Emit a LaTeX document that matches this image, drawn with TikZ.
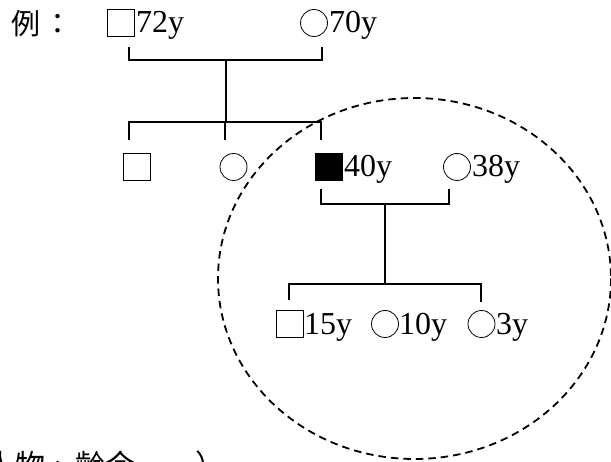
\documentclass[tikz,border=0pt]{standalone}
\usepackage{fontspec}
\setmainfont{Liberation Serif}
\newfontfamily\cjk{Noto Sans CJK TC}
\begin{document}
\begin{tikzpicture}[x=1pt,y=-1pt,
  male/.style={draw,rectangle,minimum size=27pt,inner sep=0pt,line width=0.8pt},
  female/.style={draw,circle,minimum size=27pt,inner sep=0pt,line width=0.8pt},
  affected/.style={male,fill=black},
  age/.style={anchor=base west,inner sep=0pt,font=\fontsize{32}{38}\selectfont},
  link/.style={line width=1.3pt},
  ring/.style={dashed,dash pattern=on 7.5pt off 5pt,line width=1.8pt}]
\useasboundingbox (0,0) rectangle (611,462);
\clip (0,0) rectangle (611,462);
% heading
\node[anchor=base west,inner sep=0pt,font=\cjk\fontsize{29}{32}\selectfont] (ex) at (11,35) {例\hspace{3pt}：};
% generation 1
\node[male] (gf) at (120.5,23) {};
\node[age] (gfa) at (136,33) {72y};
\node[female] (gm) at (314,23) {};
\node[age] (gma) at (329,33) {70y};
% generation 2
\node[male] (u1) at (137,167) {};
\node[female] (u2) at (233.5,167) {};
\node[affected] (p) at (329,167) {};
\node[age] (pa) at (344,177) {40y};
\node[female] (w) at (457,167) {};
\node[age] (wa) at (472,177) {38y};
% generation 3
\node[male] (c1) at (289.5,324) {};
\node[age] (c1a) at (304,335) {15y};
\node[female] (c2) at (385,324) {};
\node[age] (c2a) at (399,335) {10y};
\node[female] (c3) at (481.5,324) {};
\node[age] (c3a) at (496,335) {3y};
% junction coordinates
\coordinate (m1a) at (129,47);  \coordinate (m1b) at (129,60);
\coordinate (m1c) at (322,60);  \coordinate (m1d) at (322,47);
\coordinate (m1m) at (226,60);  \coordinate (s1m) at (226,122);
\coordinate (s1a) at (129,140); \coordinate (s1b) at (129,122);
\coordinate (s1c) at (321,122); \coordinate (s1d) at (321,140);
\coordinate (s1e) at (225,122); \coordinate (s1f) at (225,140);
\coordinate (m2a) at (321,189); \coordinate (m2b) at (321,204);
\coordinate (m2c) at (449,204); \coordinate (m2d) at (449,189);
\coordinate (m2m) at (385,204); \coordinate (s2m) at (385,284);
\coordinate (s2a) at (289,300); \coordinate (s2b) at (289,284);
\coordinate (s2c) at (481,284); \coordinate (s2d) at (481,302);
% connectors
\draw[link] (m1a) -- (m1b) -- (m1c) -- (m1d);
\draw[link] (m1m) -- (s1m);
\draw[link] (s1a) -- (s1b) -- (s1c) -- (s1d);
\draw[link] (s1e) -- (s1f);
\draw[link] (m2a) -- (m2b) -- (m2c) -- (m2d);
\draw[link] (m2m) -- (s2m);
\draw[link] (s2a) -- (s2b) -- (s2c) -- (s2d);
% dashed ring
\draw[ring] (414.5,278.5) ellipse [x radius=196.5, y radius=180.5];
% cut-off caption
\node[anchor=base west,inner sep=0pt,font=\cjk\fontsize{30}{34}\selectfont] (cap) at (-15,477) {人物、齡今　　）};
\end{tikzpicture}
\end{document}
